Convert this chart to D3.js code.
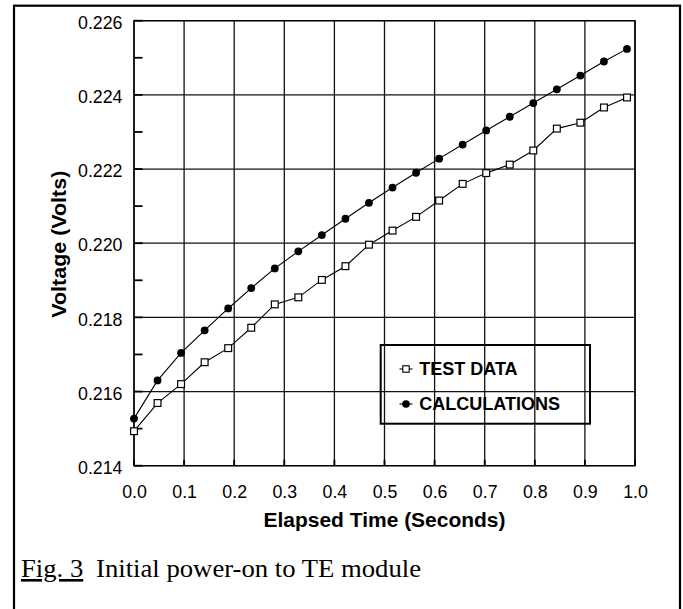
<!DOCTYPE html>
<meta charset="utf-8">
<style>
body { margin: 0; background: #fff; }
.tick text { font-family: "Liberation Sans", Arial, sans-serif; font-size: 17.8px; fill: #000; }
.title { font-family: "Liberation Sans", Arial, sans-serif; font-size: 19.5px; font-weight: bold; fill: #000; }
.legtext { font-family: "Liberation Sans", Arial, sans-serif; font-size: 18px; font-weight: bold; fill: #000; }
.caption { font-family: "Liberation Serif", "Times New Roman", serif; font-size: 26px; fill: #000; }
.grid line { stroke: #111; stroke-width: 1.3px; }
</style>
<svg width="683" height="609"></svg>
<script src="https://d3js.org/d3.v7.min.js"></script>
<script>

// elapsed time (s) of each sample
var timeS = [0, 0.047, 0.094, 0.141, 0.188, 0.234, 0.281, 0.328, 0.375, 0.422, 0.469,
             0.516, 0.563, 0.609, 0.656, 0.703, 0.750, 0.797, 0.844, 0.891, 0.938, 0.984];
var testData = [0.21493, 0.21569, 0.21620, 0.21679, 0.21717, 0.21772, 0.21835, 0.21854, 0.21901, 0.21938, 0.21996,
                0.22034, 0.22071, 0.22115, 0.22160, 0.22189, 0.22212, 0.22250, 0.22309, 0.22325, 0.22366, 0.22393];
var calcData = [0.21527, 0.21630, 0.21704, 0.21765, 0.21824, 0.21879, 0.21932, 0.21978, 0.22022, 0.22066, 0.22109,
                0.22150, 0.22190, 0.22228, 0.22266, 0.22304, 0.22341, 0.22378, 0.22415, 0.22452, 0.22490, 0.22524];
var xTicks = [0, 0.1, 0.2, 0.3, 0.4, 0.5, 0.6, 0.7, 0.8, 0.9, 1.0];
var yTicks = [0.214, 0.216, 0.218, 0.220, 0.222, 0.224, 0.226];
var yMinor = [0.215, 0.217, 0.219, 0.221, 0.223, 0.225];
var legendLabels = ["TEST DATA", "CALCULATIONS"];

var svg = d3.select("svg");

var pLeft = 134, pRight = 635, pTop = 20.7, pBottom = 465.7;

var x = d3.scaleLinear().domain([0, 1]).range([pLeft, pRight]);
var y = d3.scaleLinear().domain([0.214, 0.226]).range([pBottom, pTop]);

// page frame
svg.append("rect")
    .attr("x", 14).attr("y", 5.7)
    .attr("width", 666).attr("height", 640)
    .attr("fill", "none").attr("stroke", "#000").attr("stroke-width", 2.2);

// grid
var grid = svg.append("g").attr("class", "grid");
grid.selectAll(".gx").data(xTicks).enter().append("line")
    .attr("x1", function(d) { return x(d); }).attr("x2", function(d) { return x(d); })
    .attr("y1", pTop).attr("y2", pBottom);
grid.selectAll(".gy").data(yTicks).enter().append("line")
    .attr("y1", function(d) { return y(d); }).attr("y2", function(d) { return y(d); })
    .attr("x1", pLeft).attr("x2", pRight);

// inward ticks
svg.append("g").selectAll("line").data(yTicks.concat(yMinor)).enter().append("line")
    .attr("x1", pLeft).attr("x2", pLeft + 8.5)
    .attr("y1", function(d) { return y(d); }).attr("y2", function(d) { return y(d); })
    .attr("stroke", "#000").attr("stroke-width", 1.8);
svg.append("g").selectAll("line").data(xTicks).enter().append("line")
    .attr("x1", function(d) { return x(d); }).attr("x2", function(d) { return x(d); })
    .attr("y1", pBottom).attr("y2", pBottom - 6)
    .attr("stroke", "#000").attr("stroke-width", 1.8);

// axes (labels only)
var xAxis = svg.append("g")
    .attr("transform", "translate(0," + pBottom + ")")
    .call(d3.axisBottom(x).tickValues(xTicks).tickFormat(d3.format(".1f")).tickSize(0));
xAxis.select(".domain").remove();
xAxis.selectAll("text").attr("dy", "0.71em").attr("y", 19.3);

var yAxis = svg.append("g")
    .attr("transform", "translate(" + pLeft + ",0)")
    .call(d3.axisLeft(y).tickValues(yTicks).tickFormat(d3.format(".3f")).tickSize(0).tickPadding(11.5));
yAxis.select(".domain").remove();
yAxis.selectAll("text").attr("dy", "0.43em");

// plot box
svg.append("rect")
    .attr("x", pLeft).attr("y", pTop)
    .attr("width", pRight - pLeft).attr("height", pBottom - pTop)
    .attr("fill", "none").attr("stroke", "#000").attr("stroke-width", 1.4);

// axis titles
svg.append("text").attr("class", "title")
    .attr("x", (pLeft + pRight) / 2).attr("y", 527)
    .attr("text-anchor", "middle")
    .attr("textLength", 242).attr("lengthAdjust", "spacingAndGlyphs")
    .text("Elapsed Time (Seconds)");
svg.append("text").attr("class", "title")
    .attr("transform", "translate(65.5," + ((pTop + pBottom) / 2 + 1) + ") rotate(-90)")
    .attr("text-anchor", "middle")
    .attr("textLength", 147).attr("lengthAdjust", "spacingAndGlyphs")
    .text("Voltage (Volts)");

// series
var line = d3.line()
    .x(function(d, i) { return x(timeS[i]); })
    .y(function(d) { return y(d); });

svg.append("path").datum(calcData)
    .attr("d", line).attr("fill", "none").attr("stroke", "#000").attr("stroke-width", 1.1);
svg.append("path").datum(testData)
    .attr("d", line).attr("fill", "none").attr("stroke", "#000").attr("stroke-width", 1.1);

svg.append("g").selectAll("circle").data(calcData).enter().append("circle")
    .attr("cx", function(d, i) { return x(timeS[i]); })
    .attr("cy", function(d) { return y(d); })
    .attr("r", 3.9).attr("fill", "#000");

svg.append("g").selectAll("rect").data(testData).enter().append("rect")
    .attr("x", function(d, i) { return x(timeS[i]) - 3.4; })
    .attr("y", function(d) { return y(d) - 3.4; })
    .attr("width", 6.8).attr("height", 6.8)
    .attr("fill", "#fff").attr("stroke", "#000").attr("stroke-width", 1.2);

// legend
var leg = svg.append("g");
leg.append("rect")
    .attr("x", 380.7).attr("y", 345)
    .attr("width", 209.3).attr("height", 78.7)
    .attr("fill", "none").attr("stroke", "#000").attr("stroke-width", 2);

var legY = [369, 404];
legendLabels.forEach(function(lab, i) {
  leg.append("line")
      .attr("x1", 399.5).attr("x2", 412.5)
      .attr("y1", legY[i]).attr("y2", legY[i])
      .attr("stroke", "#000").attr("stroke-width", 1.1);
  if (i === 0) {
    leg.append("rect")
        .attr("x", 406 - 3.2).attr("y", legY[i] - 3.2)
        .attr("width", 6.4).attr("height", 6.4)
        .attr("fill", "#fff").attr("stroke", "#000").attr("stroke-width", 1.1);
  } else {
    leg.append("circle")
        .attr("cx", 406).attr("cy", legY[i]).attr("r", 3.8).attr("fill", "#000");
  }
  leg.append("text").attr("class", "legtext")
      .attr("x", 419.3).attr("y", legY[i] + 6.3)
      .text(lab);
});

// caption
var cap = svg.append("text").attr("class", "caption")
    .attr("x", 21).attr("y", 577)
    .attr("textLength", 400).attr("lengthAdjust", "spacingAndGlyphs");
cap.append("tspan").style("text-decoration", "underline").text("Fig. 3");
cap.append("tspan").attr("dx", 6).text(" Initial power-on to TE module");

</script>
